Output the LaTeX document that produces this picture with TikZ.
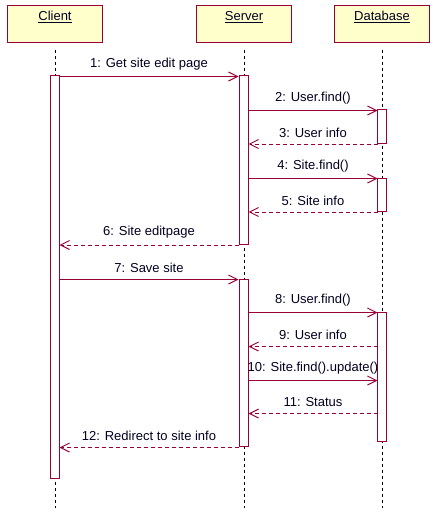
\documentclass[tikz,border=0pt]{standalone}
\usepackage{fontspec}
\setmainfont{Liberation Sans}
\usetikzlibrary{arrows.meta}
\definecolor{umlred}{RGB}{153,0,51}
\definecolor{umlfill}{RGB}{255,255,204}
\definecolor{umltext}{RGB}{0,0,32}
\tikzset{
  head/.style={draw=umlred, fill=umlfill, line width=1pt, minimum width=95pt, minimum height=37pt, inner sep=0pt},
  headlabel/.style={font=\fontsize{13}{15}\selectfont, text=umltext, inner sep=0pt},
  lifeline/.style={draw=black, line width=0.8pt, dash pattern=on 3pt off 3pt},
  act/.style={draw=umlred, fill=white, line width=1pt, minimum width=9pt, inner sep=0pt},
  call/.style={draw=umlred, line width=1pt, -{Straight Barb[length=9pt,width=9pt,line width=1pt]}},
  reply/.style={call, dash pattern=on 4pt off 3pt},
  msg/.style={font=\fontsize{13}{15}\selectfont, text=umltext, inner sep=0pt, anchor=south}
}
\begin{document}
\begin{tikzpicture}[x=1pt,y=-1pt]
\useasboundingbox (0,0) rectangle (439,516);
% headers
\node[head] (hc) at (54.5,24.5) {};
\node[head] (hs) at (243.5,24.5) {};
\node[head] (hd) at (381.5,24.5) {};
\node[headlabel] (tc) at (55,17) {\underline{Client}};
\node[headlabel] (ts) at (244,17) {\underline{Server}};
\node[headlabel] (td) at (382,17) {\underline{Database}};
% lifelines
\coordinate (lc0) at (55,50); \coordinate (lc1) at (55,508);
\coordinate (ls0) at (244,50); \coordinate (ls1) at (244,508);
\coordinate (ld0) at (382,50); \coordinate (ld1) at (382,508);
\draw[lifeline] (lc0) -- (lc1);
\draw[lifeline] (ls0) -- (ls1);
\draw[lifeline] (ld0) -- (ld1);
% activations
\node[act, minimum height=402pt] (ac) at (55,277) {};
\node[act, minimum height=168pt] (as1) at (244,160) {};
\node[act, minimum height=167pt] (as2) at (244,362.5) {};
\node[act, minimum height=33pt] (ad1) at (382,126.5) {};
\node[act, minimum height=33pt] (ad2) at (382,194.5) {};
\node[act, minimum height=129pt] (ad3) at (382,376.5) {};
% message coordinates
\coordinate (c1) at (59.5,76.5);  \coordinate (s1) at (238.5,76.5);
\coordinate (s2) at (248.5,110.5); \coordinate (d2) at (377.5,110.5);
\coordinate (d3) at (377.5,144); \coordinate (s3) at (248.5,144);
\coordinate (s4) at (248.5,178.5); \coordinate (d4) at (377.5,178.5);
\coordinate (d5) at (377.5,212); \coordinate (s5) at (248.5,212);
\coordinate (s6) at (238.5,245); \coordinate (c6) at (59.5,245);
\coordinate (c7) at (59.5,279.5); \coordinate (s7) at (238.5,279.5);
\coordinate (s8) at (248.5,312.5); \coordinate (d8) at (377.5,312.5);
\coordinate (d9) at (377.5,346.5); \coordinate (s9) at (248.5,346.5);
\coordinate (s10) at (248.5,380.5); \coordinate (d10) at (377.5,380.5);
\coordinate (d11) at (377.5,413.5); \coordinate (s11) at (248.5,413.5);
\coordinate (s12) at (238.5,447.5); \coordinate (c12) at (59.5,447.5);
% messages
\draw[call] (c1) -- node[msg, yshift=6pt] (m1) {1: Get site edit page} (s1);
\draw[call] (s2) -- node[msg, yshift=6pt] (m2) {2: User.find()} (d2);
\draw[reply] (d3) -- node[msg, yshift=6pt] (m3) {3: User info} (s3);
\draw[call] (s4) -- node[msg, yshift=6pt] (m4) {4: Site.find()} (d4);
\draw[reply] (d5) -- node[msg, yshift=6pt] (m5) {5: Site info} (s5);
\draw[reply] (s6) -- node[msg, yshift=6pt] (m6) {6: Site editpage} (c6);
\draw[call] (c7) -- node[msg, yshift=6pt] (m7) {7: Save site} (s7);
\draw[call] (s8) -- node[msg, yshift=6pt] (m8) {8: User.find()} (d8);
\draw[reply] (d9) -- node[msg, yshift=6pt] (m9) {9: User info} (s9);
\draw[call] (s10) -- node[msg, yshift=6pt] (m10) {10: Site.find().update()} (d10);
\draw[reply] (d11) -- node[msg, yshift=6pt] (m11) {11: Status} (s11);
\draw[reply] (s12) -- node[msg, yshift=6pt] (m12) {12: Redirect to site info} (c12);
\end{tikzpicture}
\end{document}
